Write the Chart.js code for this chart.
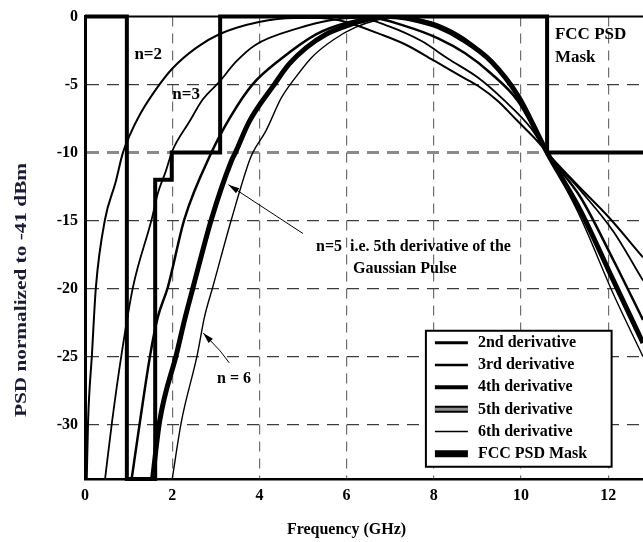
<!DOCTYPE html>
<html>
<head>
<meta charset="utf-8">
<title>PSD of Gaussian pulse derivatives and FCC mask</title>
<script src="https://cdn.jsdelivr.net/npm/chart.js@4.4.1/dist/chart.umd.min.js"></script>
<style>
  html, body { margin: 0; padding: 0; background: #fff; }
  #wrap { width: 643px; height: 542px; position: relative; }
</style>
</head>
<body>
<div id="wrap"><canvas id="psdChart"></canvas></div>
<script>
// tick labels
const freqTicks = [0, 2, 4, 6, 8, 10, 12];
const psdTicks = [0, -5, -10, -15, -20, -25, -30];

// 2nd derivative (n=2)
const d2Freq = [0.04, 0.07, 0.16, 0.25, 0.46, 0.7, 0.87, 1.03, 1.26, 1.64, 2.01, 2.55, 3.08, 3.99, 4.8, 5.4, 5.8, 6.05, 6.74, 7.35, 8.04, 8.63, 9.02, 9.47, 9.93, 10.39, 10.6, 11.3, 12.0, 12.8];
const d2Psd = [-34, -29.8, -24.8, -19.9, -14.9, -12.2, -10, -8.7, -7.2, -5.3, -3.8, -2.3, -1.3, -0.4, -0.1, -0.1, -0.25, -0.45, -1.25, -2.05, -3.3, -4.4, -5.1, -6.2, -7.7, -9.2, -10, -12.4, -14.7, -17.7];

// 3rd derivative (n=3)
const d3Freq = [0.46, 0.62, 0.84, 1.1, 1.53, 1.67, 1.85, 2.0, 2.4, 2.7, 3.08, 3.47, 3.9, 4.9, 5.66, 6.28, 6.96, 7.72, 8.33, 9.02, 9.63, 10.23, 10.6, 11.37, 12.12, 12.8];
const d3Psd = [-34, -29.8, -24.8, -19.9, -14.9, -13, -11.4, -9.9, -7.7, -6.1, -4.8, -3.3, -2.1, -0.85, -0.25, -0.1, -0.7, -1.8, -3.1, -4.5, -6.2, -8.2, -10, -12.8, -15.8, -19.4];

// 4th derivative (n=4)
const d4Freq = [1.07, 1.26, 1.5, 1.67, 1.9, 2.28, 2.9, 3.35, 3.84, 4.5, 5.3, 6.0, 6.58, 7.35, 8.1, 8.72, 9.32, 9.93, 10.6, 11.37, 12.12, 12.8];
const d4Psd = [-34, -29.8, -24.8, -22.1, -19.9, -14.9, -10, -7.3, -5, -3.1, -1.3, -0.45, -0.1, -0.7, -1.6, -2.7, -4.2, -6.2, -10, -13.3, -17.9, -22.3];

// 5th derivative (n=5)
const d5Freq = [1.55, 1.71, 2.1, 2.3, 2.48, 2.9, 3.36, 3.45, 3.77, 4.34, 4.68, 5.07, 5.53, 5.98, 6.5, 7.0, 7.5, 8.1, 8.72, 9.32, 9.93, 10.6, 11.37, 12.12, 12.8];
const d5Psd = [-34, -29.8, -24.8, -22.1, -19.9, -14.9, -10.6, -10, -7.7, -5, -3.5, -2.3, -1.3, -0.7, -0.2, 0, -0.2, -0.75, -1.8, -3.3, -5.8, -10, -14.3, -19.4, -24];

// 6th derivative (n=6)
const d6Freq = [2.0, 2.21, 2.58, 2.74, 2.93, 3.36, 3.77, 3.85, 4.15, 4.5, 4.8, 5.2, 5.7, 6.2, 6.7, 7.2, 7.7, 8.1, 8.72, 9.32, 9.93, 10.6, 11.37, 12.12, 12.8];
const d6Psd = [-34, -29.8, -24.8, -22.1, -19.9, -14.9, -10.6, -10, -8.4, -6.0, -4.6, -3.0, -1.7, -0.8, -0.25, 0, -0.2, -0.55, -1.6, -3.3, -5.9, -10, -14.8, -20.4, -25];

// FCC indoor mask, normalized to -41.3 dBm
const maskFreq = [0, 0.96, 0.96, 1.61, 1.61, 1.99, 1.99, 3.1, 3.1, 10.6, 10.6, 12.8];
const maskPsd = [0, 0, -34, -34, -12, -12, -10, -10, 0, 0, -10, -10];

const serif = '"Liberation Serif", "Times New Roman", serif';

function toPoints(xs, ys) {
    return xs.map((x, i) => ({ x: x, y: ys[i] }));
}

function curve(label, xs, ys, width, legendWidth) {
    return {
        label: label,
        data: toPoints(xs, ys),
        borderColor: '#000',
        borderWidth: width,
        legendWidth: legendWidth,
        pointRadius: 0,
        fill: false,
        cubicInterpolationMode: 'monotone'
    };
}

const datasets = [
    curve('2nd derivative', d2Freq, d2Psd, 2, 3),
    curve('3rd derivative', d3Freq, d3Psd, 1.8, 2.5),
    curve('4th derivative', d4Freq, d4Psd, 2.5, 4),
    curve('5th derivative', d5Freq, d5Psd, 5, 7),
    curve('6th derivative', d6Freq, d6Psd, 1.4, 1.5),
    {
        label: 'FCC PSD Mask',
        data: toPoints(maskFreq, maskPsd),
        borderColor: '#000',
        borderWidth: 4,
        legendWidth: 7,
        pointRadius: 0,
        fill: false,
        tension: 0,
        clip: false,
        order: -1
    }
];
datasets[3].legendCore = '#8c8c8c';

// free text placed in data units
const notes = [
    { text: 'n=2', x: 1.45, y: -2.78, size: 17, align: 'center' },
    { text: 'n=3', x: 2.32, y: -5.7, size: 17, align: 'center' },
    { text: 'FCC PSD', x: 10.78, y: -1.32, size: 17, align: 'left' },
    { text: 'Mask', x: 10.78, y: -3.0, size: 17, align: 'left' },
    { text: 'n=5  i.e. 5th derivative of the', x: 5.3, y: -16.9, size: 16, align: 'left' },
    { text: 'Gaussian Pulse', x: 6.15, y: -18.58, size: 16, align: 'left' },
    { text: 'n = 6', x: 3.42, y: -26.6, size: 16, align: 'center' }
];

const pointers = [
    [[5.0, -15.95], [3.29, -12.36]],
    [[3.31, -25.46], [3.1, -24.58], [2.71, -23.26]]
];

const legendBox = { x0: 7.82, x1: 12.08, y0: -23.1, y1: -33.1 };

const extras = {
    id: 'extras',
    afterDraw(chart) {
        const ctx = chart.ctx;
        const xs = chart.scales.x, ys = chart.scales.y;
        const area = chart.chartArea;
        const px = v => xs.getPixelForValue(v);
        const py = v => ys.getPixelForValue(v);
        ctx.save();

        // top frame
        ctx.strokeStyle = '#000';
        ctx.lineWidth = 2;
        ctx.beginPath();
        ctx.moveTo(area.left, area.top);
        ctx.lineTo(area.right, area.top);
        ctx.stroke();

        ctx.fillStyle = '#000';
        ctx.textBaseline = 'middle';
        notes.forEach(n => {
            ctx.font = 'bold ' + n.size + 'px ' + serif;
            ctx.textAlign = n.align;
            ctx.fillText(n.text, px(n.x), py(n.y));
        });

        // pointer lines with arrow heads
        pointers.forEach(p => {
            ctx.lineWidth = 1;
            ctx.beginPath();
            p.forEach((pt, i) => {
                if (i === 0) ctx.moveTo(px(pt[0]), py(pt[1]));
                else ctx.lineTo(px(pt[0]), py(pt[1]));
            });
            ctx.stroke();
            const a = p[p.length - 2], b = p[p.length - 1];
            const bx = px(b[0]), by = py(b[1]);
            const ang = Math.atan2(by - py(a[1]), bx - px(a[0]));
            ctx.beginPath();
            ctx.moveTo(bx, by);
            ctx.lineTo(bx - 11 * Math.cos(ang) + 3 * Math.sin(ang), by - 11 * Math.sin(ang) - 3 * Math.cos(ang));
            ctx.lineTo(bx - 11 * Math.cos(ang) - 3 * Math.sin(ang), by - 11 * Math.sin(ang) + 3 * Math.cos(ang));
            ctx.closePath();
            ctx.fill();
        });

        // legend
        const lx = px(legendBox.x0), rx = px(legendBox.x1);
        const ty = py(legendBox.y0), bY = py(legendBox.y1);
        ctx.fillStyle = '#fff';
        ctx.fillRect(lx, ty, rx - lx, bY - ty);
        ctx.lineWidth = 2;
        ctx.strokeStyle = '#000';
        ctx.strokeRect(lx, ty, rx - lx, bY - ty);
        ctx.font = 'bold 16px ' + serif;
        ctx.textAlign = 'left';
        chart.data.datasets.forEach((ds, i) => {
            const y = ty + 12 + i * 22.2;
            ctx.beginPath();
            ctx.moveTo(lx + 9, y);
            ctx.lineTo(lx + 42, y);
            ctx.lineWidth = ds.legendWidth;
            ctx.strokeStyle = '#000';
            ctx.stroke();
            if (ds.legendCore) {
                ctx.beginPath();
                ctx.moveTo(lx + 9, y);
                ctx.lineTo(lx + 42, y);
                ctx.lineWidth = 3;
                ctx.strokeStyle = ds.legendCore;
                ctx.stroke();
            }
            ctx.fillStyle = '#000';
            ctx.fillText(ds.label, lx + 52, y);
        });

        // axis titles
        ctx.font = 'bold 16px ' + serif;
        ctx.textAlign = 'center';
        ctx.fillStyle = '#000';
        ctx.fillText('Frequency (GHz)', 346.5, 530);

        ctx.save();
        ctx.translate(22, 290);
        ctx.rotate(-Math.PI / 2);
        ctx.scale(1.33, 1);
        ctx.fillStyle = '#1b1b35';
        ctx.fillText('PSD normalized to -41 dBm', 0, 0);
        ctx.restore();

        ctx.restore();
    }
};

new Chart(document.getElementById('psdChart'), {
    type: 'line',
    data: { datasets: datasets },
    options: {
        responsive: true,
        maintainAspectRatio: false,
        animation: false,
        layout: { padding: { top: 14, right: 0, left: 0, bottom: 0 } },
        plugins: {
            legend: { display: false },
            tooltip: { enabled: false }
        },
        scales: {
            x: {
                type: 'linear',
                min: 0,
                max: 12.8,
                afterBuildTicks: scale => { scale.ticks = freqTicks.map(v => ({ value: v })); },
                afterFit: scale => { scale.height = 63; },
                ticks: {
                    color: '#000',
                    padding: 7,
                    font: { family: serif, size: 16, weight: 'bold' }
                },
                grid: {
                    drawTicks: false,
                    color: c => (c.tick && c.tick.value === 0) ? 'rgba(0,0,0,0)' : '#6e6e6e',
                    lineWidth: 1.2
                },
                border: { display: true, color: '#000', width: 2.5, dash: [10, 7] }
            },
            y: {
                type: 'linear',
                min: -34,
                max: 0,
                afterBuildTicks: scale => { scale.ticks = psdTicks.map(v => ({ value: v })); },
                afterFit: scale => { scale.width = 85; },
                ticks: {
                    color: '#000',
                    padding: 7,
                    font: { family: serif, size: 16, weight: 'bold' }
                },
                grid: {
                    drawTicks: false,
                    color: c => {
                        if (!c.tick || c.tick.value === 0) return 'rgba(0,0,0,0)';
                        return c.tick.value === -10 ? '#8a8a8a' : '#3c3c3c';
                    },
                    lineWidth: c => (c.tick && c.tick.value === -10) ? 3 : 1.3
                },
                border: { display: true, color: '#000', width: 3, dash: [12, 8] }
            }
        }
    },
    plugins: [extras]
});
</script>
</body>
</html>
